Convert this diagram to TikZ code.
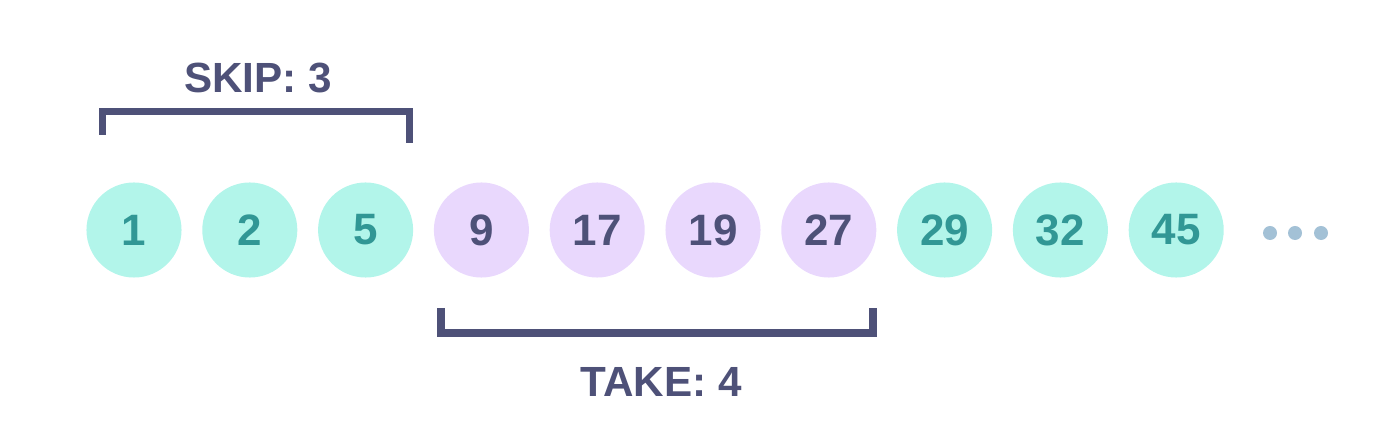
\documentclass[tikz,border=0pt]{standalone}
\usepackage{fontspec}
\setmainfont{Liberation Sans}
\usepackage{tikz}

\definecolor{skipfill}{HTML}{B2F5EA}
\definecolor{skiptext}{HTML}{319795}
\definecolor{takefill}{HTML}{E9D8FD}
\definecolor{navy}{HTML}{4E5178}
\definecolor{dotgray}{HTML}{A3C1D6}

\begin{document}
\begin{tikzpicture}[x=0.01cm,y=-0.01cm,num/.style={shape=circle,minimum size=0.95cm,inner sep=0pt,font=\fontsize{12.5}{14}\selectfont\bfseries},numS/.style={num,fill=skipfill,text=skiptext},numT/.style={num,fill=takefill,text=navy},dot/.style={shape=circle,minimum size=0.14cm,inner sep=0pt,fill=dotgray},brace/.style={draw=navy,line width=0.07cm,miter limit=10},label/.style={font=\fontsize{12}{14}\selectfont\bfseries,text=navy}]
\def\dx{115.8};
\def\cy{230};

\useasboundingbox (0,0) rectangle (1400,437);

\node[numS] (n1) at (134,\cy) {1};
\node[numS] (n2) at (134+\dx,\cy) {2};
\node[numS] (n3) at (134+2*\dx,\cy) {5};
\node[numT] (n4) at (134+3*\dx,\cy) {9};
\node[numT] (n5) at (134+4*\dx,\cy) {17};
\node[numT] (n6) at (134+5*\dx,\cy) {19};
\node[numT] (n7) at (134+6*\dx,\cy) {27};
\node[numS] (n8) at (134+7*\dx,\cy) {29};
\node[numS] (n9) at (134+8*\dx,\cy) {32};
\node[numS] (n10) at (134+9*\dx,\cy) {45};

\node[dot] (d1) at (1270,233) {};
\node[dot] (d2) at (1295,233) {};
\node[dot] (d3) at (1321,233) {};

% skip bracket
\coordinate (sa) at (102.5,135);
\coordinate (sb) at (409.5,143);
\draw[brace] (sa) -- (sa |- 0,111.5) -- (sb |- 0,111.5) -- (sb);
\node[label] (skip) at (258,78) {SKIP: 3};

% take bracket
\coordinate (ta) at (441,308);
\coordinate (tb) at (873,308);
\draw[brace,line width=0.08cm] (ta) -- (ta |- 0,333) -- (tb |- 0,333) -- (tb);
\node[label] (take) at (661,382) {TAKE: 4};

\end{tikzpicture}
\end{document}
